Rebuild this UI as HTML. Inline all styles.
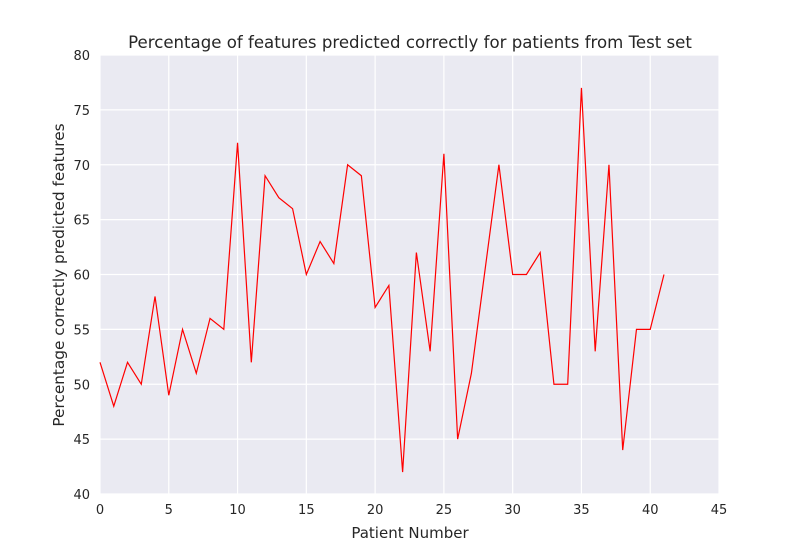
<!DOCTYPE html>
<html><head><meta charset="utf-8"><style>
body{margin:0;background:#fff;font-family:"DejaVu Sans","Liberation Sans",sans-serif}
svg text{font-family:"DejaVu Sans","Liberation Sans",sans-serif}
</style></head><body>
<svg id="chart" width="800" height="550" xmlns="http://www.w3.org/2000/svg">
<rect x="0" y="0" width="800" height="550" fill="#fff"/>
<rect x="100" y="55" width="619" height="439" fill="#eaeaf2"/>
<g id="grid"></g><g id="ticks"></g><g id="series"></g>
<text x="410" y="48" text-anchor="middle" font-size="16.6" fill="#262626">Percentage of features predicted correctly for patients from Test set</text>
<text x="410" y="538" text-anchor="middle" font-size="15" fill="#262626">Patient Number</text>
<text transform="translate(64,275) rotate(-90)" text-anchor="middle" font-size="15.3" fill="#262626">Percentage correctly predicted features</text>
</svg>
<script>
const xTicks=[0,5,10,15,20,25,30,35,40,45];
const yTicks=[40,45,50,55,60,65,70,75,80];
const patients=[0,1,2,3,4,5,6,7,8,9,10,11,12,13,14,15,16,17,18,19,20,21,22,23,24,25,26,27,28,29,30,31,32,33,34,35,36,37,38,39,40,41];
const percentCorrect=[52,48,52,50,58,49,55,51,56,55,72,52,69,67,66,60,63,61,70,69,57,59,42,62,53,71,45,51,60.5,70,60,60,62,50,50,77,53,70,44,55,55,60];
const NS='http://www.w3.org/2000/svg';
const X0=100,X1=719,Y0=494,Y1=55;
const xs=v=>X0+(v-0)/(45-0)*(X1-X0);
const ys=v=>Y0-(v-40)/(80-40)*(Y0-Y1);
function mk(tag,attrs,parent){const e=document.createElementNS(NS,tag);for(const k in attrs)e.setAttribute(k,attrs[k]);document.getElementById(parent).appendChild(e);return e;}
xTicks.forEach(t=>{
 const l=mk('line',{x1:xs(t),x2:xs(t),y1:Y1,y2:Y0,stroke:'#fff','stroke-width':1.2},'grid');
 
 
 const tx=mk('text',{x:xs(t),y:Y0+20,'text-anchor':'middle','font-size':13,fill:'#262626'},'ticks');
 tx.textContent=t;
 
 
});
yTicks.forEach(t=>{
 const l=mk('line',{x1:X0,x2:X1,y1:ys(t),y2:ys(t),stroke:'#fff','stroke-width':1.2},'grid');
 
 
 const tx=mk('text',{x:X0-10,y:ys(t)+5,'text-anchor':'end','font-size':13,fill:'#262626'},'ticks');
 tx.textContent=t;
 
 
});
const pts=patients.map((p,i)=>xs(p).toFixed(2)+','+ys(percentCorrect[i]).toFixed(2)).join(' ');
const line=mk('polyline',{points:pts,fill:'none',stroke:'#ff0000','stroke-width':1.2},'series');


</script>
</body></html>
